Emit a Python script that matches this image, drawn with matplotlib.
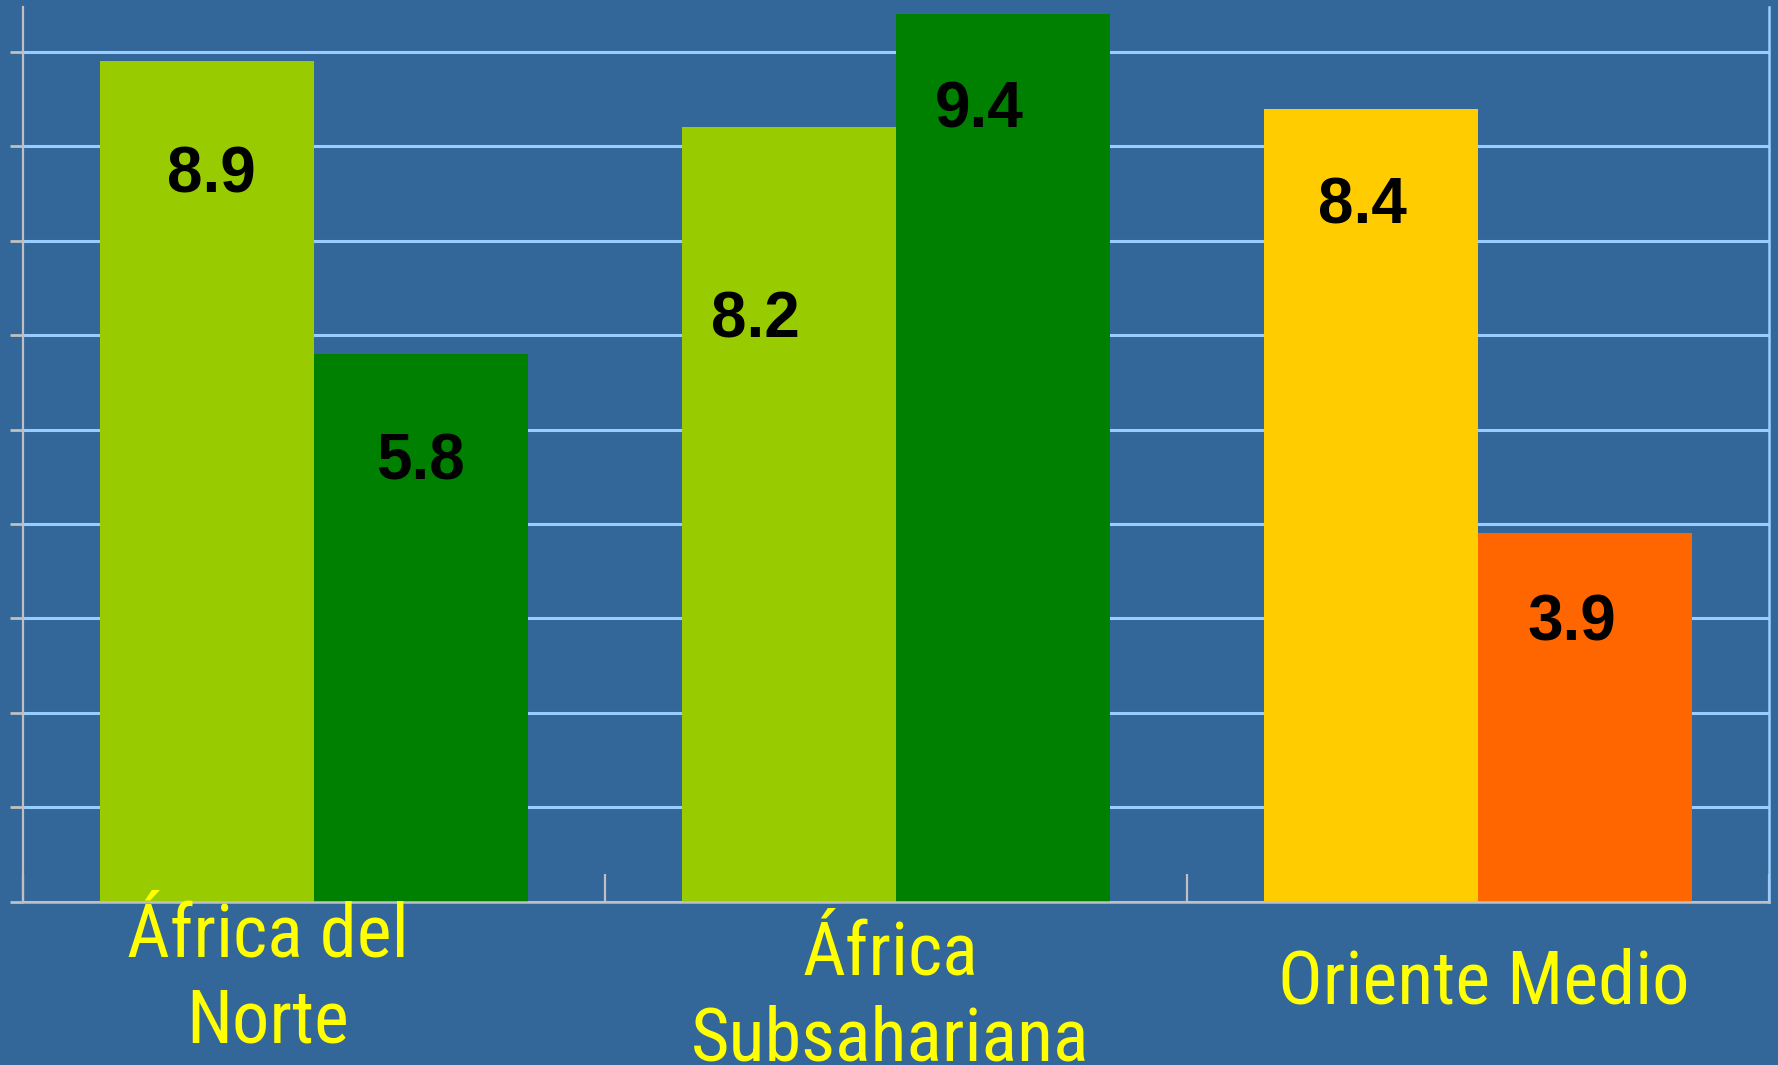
import numpy as np
import matplotlib.pyplot as plt

# data
categories = ['África del\nNorte', 'África\nSubsahariana', 'Oriente Medio']
first_values = [8.9, 8.2, 8.4]
second_values = [5.8, 9.4, 3.9]
first_colors = ['#99CC00', '#99CC00', '#FFCC00']
second_colors = ['#008000', '#008000', '#FF6600']

# layout of the value labels inside the bars (shift in x, drop below bar top)
first_label_dx = [0.007, -0.058, -0.014]
first_label_drop = [1.21, 2.04, 1.04]
second_label_dx = [-0.002, -0.041, -0.023]
second_label_drop = [1.15, 1.02, 0.95]

# category label placement (x shift, last-line baseline in axes fraction)
cat_dx = [-0.08, -0.01, 0.01]
cat_y = [-0.158, -0.178, -0.1135]

bg = '#336699'
grid_col = '#99CCFF'
axis_col = '#C0C0C0'
narrow = ['Liberation Sans Narrow', 'Roboto Condensed', 'DejaVu Sans']

fig = plt.figure(figsize=(17.78, 10.65), dpi=100, facecolor=bg)
ax = fig.add_axes([23/1778, (1065-901.5)/1065, (1769-23)/1778, (901.5-7)/1065])
ax.set_facecolor(bg)

x = np.arange(len(categories))
w = 0.368
ax.bar(x - w/2, first_values, w, color=first_colors, zorder=2)
ax.bar(x + w/2, second_values, w, color=second_colors, zorder=2)

for i in range(len(categories)):
    ax.text(x[i] - w/2 + first_label_dx[i], first_values[i] - first_label_drop[i],
            str(first_values[i]), ha='center', va='center', fontsize=46,
            fontweight='bold', family=['Liberation Sans', 'DejaVu Sans'], zorder=3)
    ax.text(x[i] + w/2 + second_label_dx[i], second_values[i] - second_label_drop[i],
            str(second_values[i]), ha='center', va='center', fontsize=46,
            fontweight='bold', family=['Liberation Sans', 'DejaVu Sans'], zorder=3)
    ax.text(x[i] + cat_dx[i], cat_y[i], categories[i], transform=ax.get_xaxis_transform(),
            ha='center', va='baseline', fontsize=53.5, color='#FFFF00',
            family=narrow, fontstretch='condensed', linespacing=1.28,
            multialignment='center', zorder=4)

ax.set_xlim(-0.5, 2.5)
ax.set_ylim(0, 9.476)

# gridlines
ax.set_yticks(np.arange(0, 10))
ax.yaxis.grid(True, color=grid_col, linewidth=2.2, zorder=0)
ax.set_axisbelow(True)
ax.tick_params(axis='y', direction='out', length=9.5, width=2, color=axis_col,
               labelleft=False)

ax.set_xticks([-0.5, 0.5, 1.5, 2.5])
ax.set_xticks(x, minor=True)
ax.tick_params(axis='x', which='major', direction='in', length=20, width=1.6,
               color=axis_col, labelbottom=False)
ax.tick_params(axis='x', which='minor', direction='in', length=14, width=1.6,
               color=axis_col, labelbottom=False)

ax.spines['top'].set_visible(False)
ax.spines['left'].set_color(axis_col)
ax.spines['left'].set_linewidth(1.6)
ax.spines['bottom'].set_color(axis_col)
ax.spines['bottom'].set_linewidth(1.8)
ax.spines['right'].set_color(grid_col)
ax.spines['right'].set_linewidth(1.8)

fig.savefig('out.png', dpi=100, facecolor=bg)
